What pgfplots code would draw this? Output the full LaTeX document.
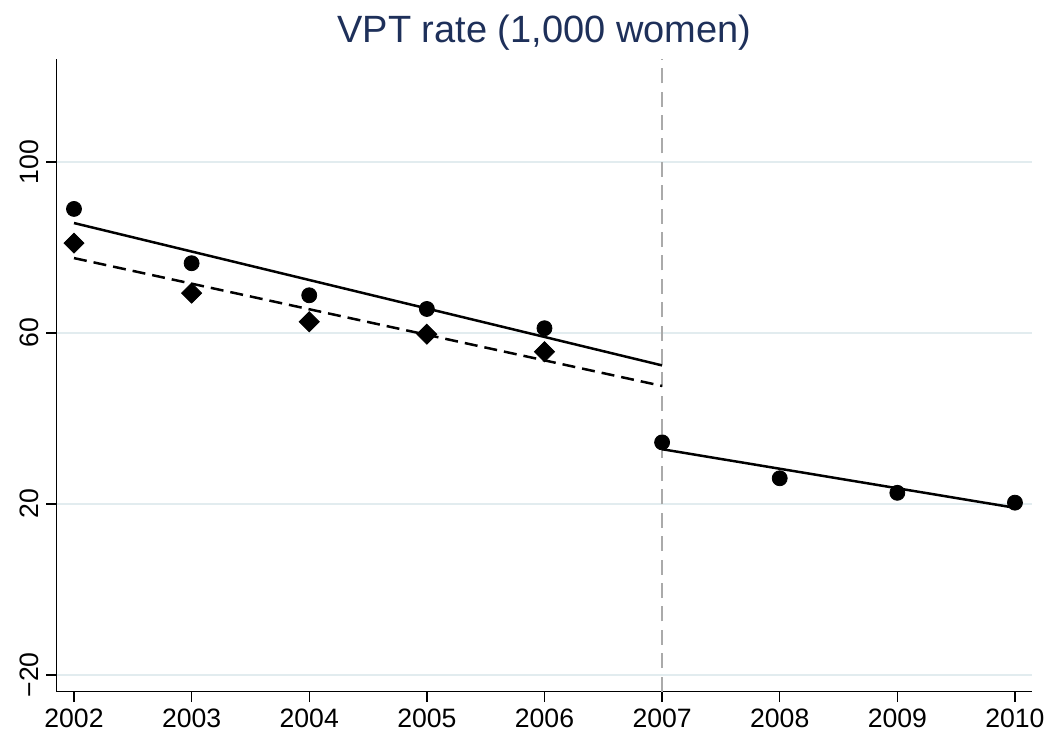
\documentclass[border=0pt]{standalone}
\usepackage{fontspec}
\setmainfont{Liberation Sans}
\usepackage{pgfplots}
\pgfplotsset{compat=1.18}
\definecolor{titlecol}{RGB}{30,48,90}
\definecolor{gridcol}{RGB}{226,236,239}
\definecolor{vlinecol}{RGB}{170,170,170}
\begin{document}
\begin{tikzpicture}
\begin{axis}[
  scale only axis, width=487.7pt, height=316.2pt,
  xmin=2001.853, xmax=2010.145, ymin=-23.9, ymax=124.0,
  axis lines*=left,
  xtick={2002,2003,2004,2005,2006,2007,2008,2009,2010},
  xticklabels={2002,2003,2004,2005,2006,2007,2008,2009,2010},
  ytick={-20,20,60,100},
  yticklabels={−20,20,60,100},
  tick align=outside, major tick length=5.25pt,
  tick style={black, line width=0.65pt},
  axis line style={line width=0.65pt},
  ymajorgrids, grid style={gridcol, line width=1pt},
  yticklabel style={rotate=90, anchor=south},
  tick label style={font=\fontsize{13.3}{16}\selectfont},
  /pgf/number format/assume math mode=true,
  title={VPT rate (1,000 women)},
  title style={at={(0.5,1)}, anchor=base, yshift=2.15pt, font=\fontsize{19}{23}\selectfont, text=titlecol, inner sep=0pt},
]
\addplot[vlinecol, line width=1pt, dash pattern=on 7.5pt off 4.2pt, forget plot] coordinates {(2007,-23.9) (2007,124)};
\addplot[black, line width=1.25pt] coordinates {(2002,85.7) (2007,52.4)};
\addplot[black, line width=1.25pt, dash pattern=on 6.5pt off 3.5pt] coordinates {(2002,77.5) (2007,47.6)};
\addplot[black, line width=1.25pt] coordinates {(2007,32.8) (2010,19.1)};
\addplot[only marks, mark=*, mark size=3.75pt, black] coordinates {
  (2002,89.0) (2003,76.3) (2004,68.8) (2005,65.6) (2006,61.1)
  (2007,34.4) (2008,26.0) (2009,22.6) (2010,20.3)};
\addplot[only marks, mark=square*, mark size=3.54pt, mark options={rotate=45}, black] coordinates {
  (2002,81.0) (2003,69.3) (2004,62.6) (2005,59.7) (2006,55.6)};
\end{axis}
\pgfresetboundingbox
\path (current axis.south west) ++(-28.35pt,-21.15pt) rectangle ([shift={(10.5pt,29.65pt)}]current axis.north east);
\end{tikzpicture}
\end{document}
